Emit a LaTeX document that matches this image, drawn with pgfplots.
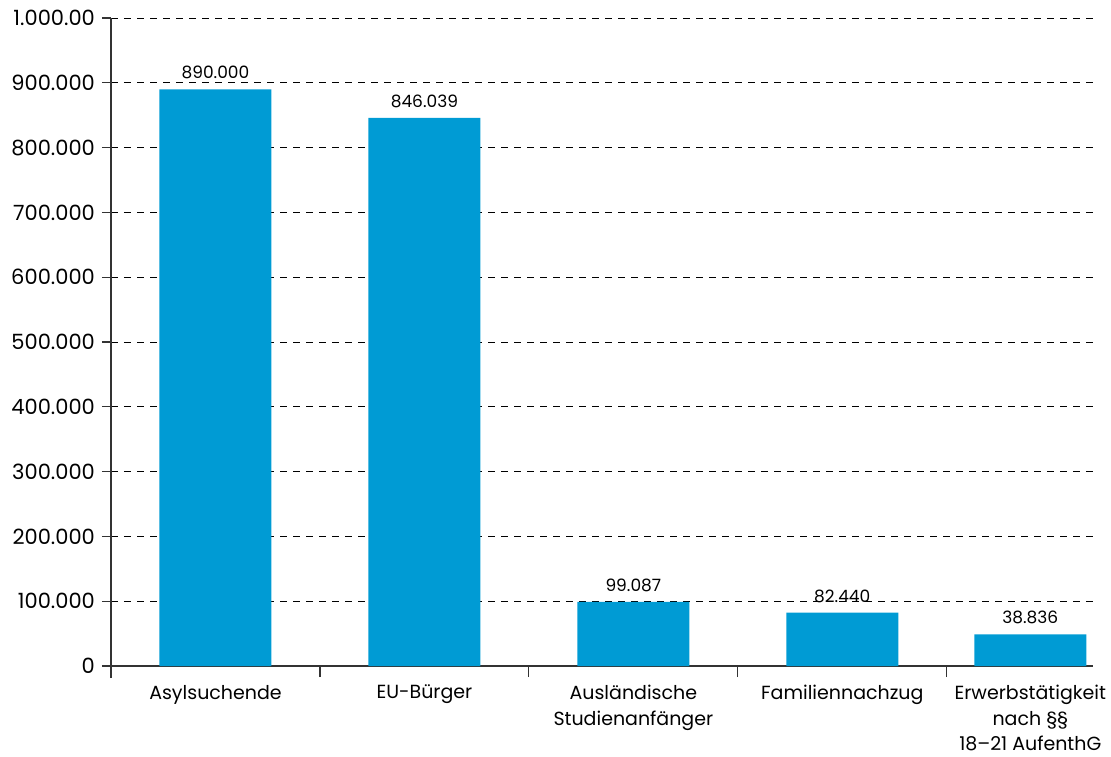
\documentclass[border=0pt]{standalone}
\usepackage{pgfplots}
\pgfplotsset{compat=1.18}
\usepackage{fontspec}
\setmainfont{Poppins}
\definecolor{barblue}{HTML}{009BD4}
\definecolor{axisgray}{HTML}{333333}

\begin{document}
\begin{tikzpicture}
    \path[use as bounding box] (-55.5pt,-39pt) rectangle (500pt,339pt);
    \begin{axis}[
        scale only axis,
        width=491pt, height=330pt,
        xmin=-0.5, xmax=4.2,
        ymin=-18500, ymax=1000000,
        axis x line=middle,
        axis y line=left,
        axis line style={-, axisgray, line width=0.6pt},
        hide obscured x ticks=false,
        hide obscured y ticks=false,
        tick align=outside,
        tick style={axisgray, line width=0.6pt},
        xtick={0,1,2,3,3.9},
        xticklabels={Asylsuchende, EU-Bürger, Ausländische\\Studienanfänger, Familiennachzug, Erwerbstätigkeit\\nach §§\\18–21 AufenthG},
        x tick label style={align=center, font=\fontsize{9.5}{12.8}\selectfont, yshift=-1.5pt},
        major x tick style={draw=none},
        minor xtick={0.5,1.5,2.5,3.5},
        minor tick length=5.5pt,
        ytick={0,100000,...,1000000},
        yticklabels={0,100.000,200.000,300.000,400.000,500.000,600.000,700.000,800.000,900.000,1.000.00},
        y tick label style={font=\fontsize{10.5}{12}\selectfont},
        major tick length=4.5pt,
        /pgf/number format/assume math mode=true,
        ymajorgrids,
        major grid style={black, line width=0.4pt, dash pattern=on 3.5pt off 3pt},
        ybar, bar width=56pt,
        point meta=explicit symbolic,
        nodes near coords,
        nodes near coords style={font=\fontsize{8.5}{10}\selectfont, black, yshift=1.5pt},
    ]
        \addplot[fill=barblue, draw=none] coordinates {
            (0,890000) [890.000]
            (1,846039) [846.039]
            (2,99087) [99.087]
            (3,82440) [82.440]
            (3.9,49000) [38.836]
        };
    \end{axis}
\end{tikzpicture}
\end{document}
